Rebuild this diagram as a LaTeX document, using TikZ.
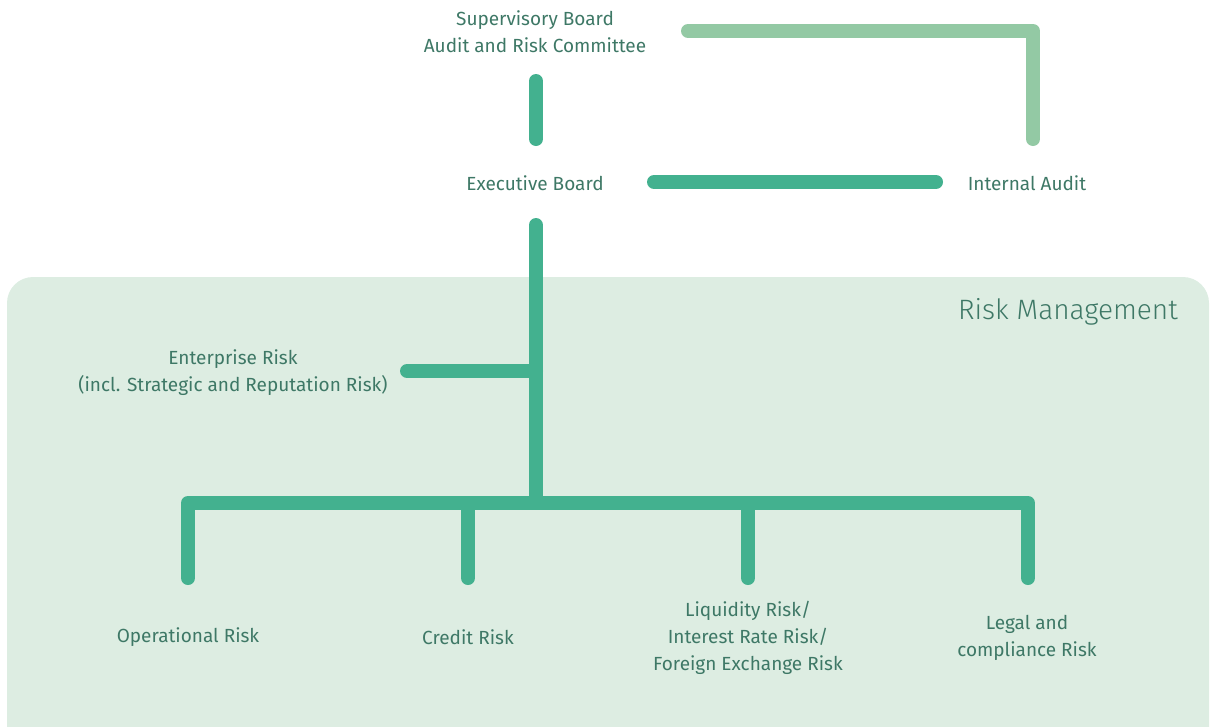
\documentclass[tikz,border=0pt]{standalone}
\usepackage{fontspec}
\setmainfont{Fira Sans}
\newfontfamily\lightfont{Fira Sans Light}
\definecolor{lineg}{HTML}{43B18F}
\definecolor{lightg}{HTML}{93C9A4}
\definecolor{bgg}{HTML}{DDEDE2}
\definecolor{txtg}{HTML}{3E7866}
\begin{document}
\begin{tikzpicture}[x=1pt,y=-1pt,
  lbl/.style={text=txtg,font=\fontsize{19}{27}\selectfont,align=center,inner sep=0pt},
  conn/.style={draw=lineg,line width=14pt,line cap=round,line join=round},
  lconn/.style={draw=lightg,line width=14pt,line cap=round,line join=round}]
\useasboundingbox (0,0) rectangle (1210,726);
\fill[bgg,rounded corners=26pt] (7,277) rectangle (1209,760);
\node[text=txtg,font=\lightfont\fontsize{28}{30}\selectfont,inner sep=0pt] (rm) at (1068,312) {Risk Management};
\node[lbl] (sb) at (535,32) {Supervisory Board\\Audit and Risk Committee};
\node[lbl] (eb) at (535,183) {Executive Board};
\node[lbl] (ia) at (1027,183) {Internal Audit};
\node[lbl] (er) at (233,373) {Enterprise Risk\\(incl. Strategic and Reputation Risk)};
\node[lbl] (op) at (188,637) {Operational Risk};
\node[lbl] (cr) at (468,637) {Credit Risk};
\node[lbl] (lq) at (748,638) {Liquidity Risk/\\Interest Rate Risk/\\Foreign Exchange Risk};
\node[lbl] (lg) at (1027,638) {Legal and\\compliance Risk};
% coordinates
\coordinate (sbB) at (536,81);
\coordinate (ebT) at (536,139);
\coordinate (ebR) at (654,182);
\coordinate (iaL) at (936,182);
\coordinate (sbR) at (688,31);
\coordinate (iaC) at (1033,31);
\coordinate (iaT) at (1033,139);
\coordinate (ebB) at (536,225);
\coordinate (hub) at (536,503);
\coordinate (erJ) at (536,371);
\coordinate (erR) at (407,371);
\coordinate (opT) at (188,578);
\coordinate (crT) at (468,578);
\coordinate (lqT) at (748,578);
\coordinate (lgT) at (1028,578);
\draw[conn] (sbB) -- (ebT);
\draw[conn] (ebR) -- (iaL);
\draw[lconn] (sbR) -- (iaC) -- (iaT);
\draw[conn,line cap=butt] (ebB) -- (hub);
\draw[conn,line cap=round] (ebB) -- ++(0,1);
\draw[conn] (erR) -- (erJ);
\draw[conn] (opT) -- (188,503) -- (1028,503) -- (lgT);
\draw[conn] (crT) -- (468,503);
\draw[conn] (lqT) -- (748,503);
\end{tikzpicture}
\end{document}
